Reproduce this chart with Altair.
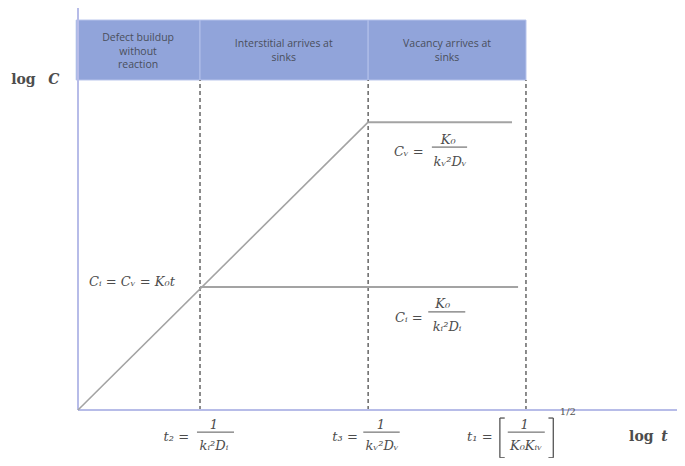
import altair as alt
import pandas as pd

# ---- schematic data (log t on x, log C on y, arbitrary units) ----
t2, t3, t1 = 2.01, 4.78, 7.38
cv_plateau, ci_plateau = 7.16, 3.06
cv_end, ci_end = 7.15, 7.25
head_lo, head_hi = 8.21, 9.70

regime_names = ["Defect buildup\nwithout\nreaction", "Interstitial arrives at\nsinks", "Vacancy arrives at\nsinks"]
regime_x0 = [-0.03, t2, t3]
regime_x1 = [t2, t3, t1]
regime_xc = [0.99, 3.39, 6.08]
regime_ytop = [9.25, 9.10, 9.10]

curve_x = [0.0, t3]
curve_y = [0.0, cv_plateau]

# formula texts (serif italic)
f_text = ["Cᵢ  =  Cᵥ  =  K₀t", "Cᵥ  =", "K₀", "kᵥ²Dᵥ", "Cᵢ  =", "K₀", "kᵢ²Dᵢ",
          "t₂  =", "1", "kᵢ²Dᵢ", "t₃  =", "1", "kᵥ²Dᵥ", "t₁  =", "1", "K₀Kᵢᵥ"]
f_x = [0.89, 5.45, 6.10, 6.13, 5.45, 6.01, 6.08,
       1.62, 2.24, 2.24, 4.40, 4.99, 5.01, 6.62, 7.36, 7.38]
f_y = [3.18, 6.42, 6.72, 6.17, 2.29, 2.64, 2.06,
       -0.67, -0.37, -0.90, -0.67, -0.37, -0.90, -0.67, -0.37, -0.90]

# fraction bars
bar_x0 = [5.83, 5.77, 1.96, 4.70, 7.08]
bar_x1 = [6.41, 6.38, 2.57, 5.30, 7.69]
bar_y = [6.54, 2.44, -0.55, -0.55, -0.55]

# bracket around t1 fraction
brk_x = [6.95, 7.83]
brk_y0, brk_y1 = -0.20, -1.19

df_reg = pd.DataFrame({"name": regime_names, "x0": regime_x0, "x1": regime_x1, "xc": regime_xc,
                       "y0": [head_lo] * 3, "y1": [head_hi] * 3, "yc": regime_ytop})
df_curve = pd.DataFrame({"x": curve_x, "y": curve_y})
df_plat = pd.DataFrame({"x0": [t3, t2], "x1": [cv_end, ci_end], "y": [cv_plateau, ci_plateau]})
df_dash = pd.DataFrame({"x": [t2, t3, t1], "y0": [0, 0, 0], "y1": [head_lo] * 3})
df_f = pd.DataFrame({"t": f_text, "x": f_x, "y": f_y})
df_bar = pd.DataFrame({"x0": bar_x0, "x1": bar_x1, "y": bar_y})
df_axes = pd.DataFrame({"x0": [0, 0], "x1": [0, 10.2], "y0": [0, 0], "y1": [10.1, 0]})
df_brv = pd.DataFrame({"x": brk_x, "y0": [brk_y0] * 2, "y1": [brk_y1] * 2})
df_brh = pd.DataFrame({"x0": [brk_x[0], brk_x[0], brk_x[1] - 0.08, brk_x[1] - 0.08],
                       "x1": [brk_x[0] + 0.08, brk_x[0] + 0.08, brk_x[1], brk_x[1]],
                       "y": [brk_y0, brk_y1, brk_y0, brk_y1]})
df_sup = pd.DataFrame({"t": ["1/2"], "x": [8.07], "y": [-0.05]})
df_lbl = pd.DataFrame({"t": ["log", "log"], "x": [-0.90, 9.28], "y": [8.21, -0.67]})
df_lblc = pd.DataFrame({"t": ["C", "t"], "x": [-0.40, 9.66], "y": [8.21, -0.67]})

X = alt.Scale(domain=[0, 9.868])
Y = alt.Scale(domain=[0, 10])
x = lambda f: alt.X(f, type="quantitative", scale=X, axis=None)
y = lambda f: alt.Y(f, type="quantitative", scale=Y, axis=None)

header = alt.Chart(df_reg).mark_rect(color="#91a4da", stroke="#b3c0ea", strokeWidth=1).encode(
    x=x("x0"), x2="x1", y=y("y0"), y2="y1")
header_txt = alt.Chart(df_reg).mark_text(font="Open Sans", fontSize=10.5, color="#4a4f5c",
                                         lineBreak="\n", lineHeight=13.5, baseline="middle").encode(
    x=x("xc"), y=y("yc"), text="name")
dash = alt.Chart(df_dash).mark_rule(color="#666666", strokeDash=[4, 3], strokeWidth=1.5).encode(
    x=x("x"), y=y("y0"), y2="y1")
axes = alt.Chart(df_axes).mark_rule(color="#b7bce8", strokeWidth=2).encode(
    x=x("x0"), x2="x1", y=y("y0"), y2="y1")
curve = alt.Chart(df_curve).mark_line(color="#a3a3a3", strokeWidth=1.6).encode(x=x("x"), y=y("y"))
plat = alt.Chart(df_plat).mark_rule(color="#a3a3a3", strokeWidth=2).encode(
    x=x("x0"), x2="x1", y=y("y"))
ftxt = alt.Chart(df_f).mark_text(font="DejaVu Serif", fontStyle="italic", fontSize=13,
                                 color="#4d4d4d").encode(x=x("x"), y=y("y"), text="t")
bars = alt.Chart(df_bar).mark_rule(color="#555555", strokeWidth=1).encode(
    x=x("x0"), x2="x1", y=y("y"))
brv = alt.Chart(df_brv).mark_rule(color="#555555", strokeWidth=1.3).encode(
    x=x("x"), y=y("y0"), y2="y1")
brh = alt.Chart(df_brh).mark_rule(color="#555555", strokeWidth=1.3).encode(
    x=x("x0"), x2="x1", y=y("y"))
sup = alt.Chart(df_sup).mark_text(font="DejaVu Serif", fontSize=10, color="#555555").encode(
    x=x("x"), y=y("y"), text="t")
lbl = alt.Chart(df_lbl).mark_text(font="DejaVu Serif", fontSize=14, color="#4d4d4d",
                                  fontWeight="bold").encode(x=x("x"), y=y("y"), text="t")
lblc = alt.Chart(df_lblc).mark_text(font="DejaVu Serif", fontSize=14, color="#4d4d4d",
                                    fontWeight="bold", fontStyle="italic").encode(
    x=x("x"), y=y("y"), text="t")

chart = alt.layer(header, dash, axes, curve, plat, header_txt, ftxt, bars, brv, brh, sup, lbl, lblc).properties(
    width=599, height=402,
    padding={"left": 70, "top": 0, "right": 0, "bottom": 48},
    autosize=alt.AutoSizeParams(type="none"),
).configure_view(stroke=None)

chart.save("out.html", embed_options={"renderer": "svg", "actions": False})
